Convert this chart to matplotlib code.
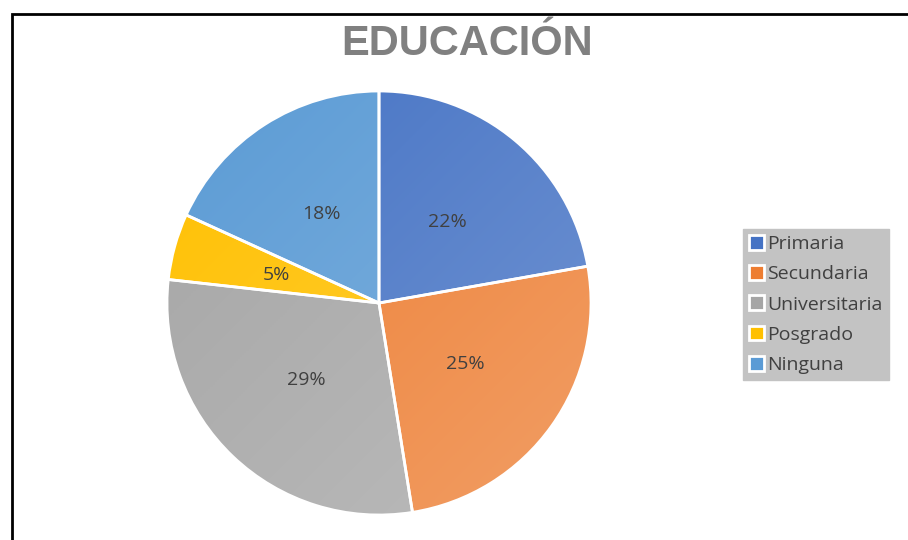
import numpy as np
import matplotlib.pyplot as plt
from matplotlib.colors import LinearSegmentedColormap, to_rgb
from matplotlib.patches import Rectangle, Wedge

categories = ['Primaria', 'Secundaria', 'Universitaria', 'Posgrado', 'Ninguna']
values = [22, 25, 29, 5, 18]
colors = ['#4472C4', '#ED7D31', '#A5A5A5', '#FFC000', '#5B9BD5']


def lighter(c, amt):
    r = np.array(to_rgb(c))
    return tuple(r + (1 - r) * amt)


def main():
    fig = plt.figure(figsize=(9.08, 5.40), dpi=100)

    # pie area
    ax = fig.add_axes([167 / 908, 25 / 540, 424 / 908, 424 / 540])
    wedges, texts, autotexts = ax.pie(
        values, colors=colors, startangle=90, counterclock=False,
        autopct='%1.0f%%', pctdistance=0.5,
        wedgeprops=dict(edgecolor='white', linewidth=2),
        textprops=dict(fontsize=14, color='#404040', family='Open Sans'))
    ax.set_aspect('equal')
    ax.set_xlim(-1, 1)
    ax.set_ylim(-1, 1)

    # soft diagonal shading inside each slice
    yy, xx = np.mgrid[1:-1:200j, -1:1:200j]
    grad = (xx - yy + 2) / 4
    for w, c in zip(wedges, colors):
        cmap = LinearSegmentedColormap.from_list('g', [c, lighter(c, 0.25)])
        im = ax.imshow(grad, extent=[-1, 1, -1, 1], cmap=cmap, vmin=0, vmax=1,
                       zorder=w.get_zorder() + 0.1, interpolation='bilinear')
        im.set_clip_path(w)
        edge = Wedge(w.center, w.r, w.theta1, w.theta2, facecolor='none',
                     edgecolor='white', linewidth=2, zorder=w.get_zorder() + 0.2)
        ax.add_patch(edge)
    for t in autotexts:
        t.set_zorder(5)

    # title
    fig.text(467 / 908, 1 - 44 / 540, 'EDUCACIÓN', ha='center', va='center',
             fontsize=30, fontweight='bold', color='#808080', family='Liberation Sans')

    # legend
    leg = fig.legend(wedges, categories, loc='upper left',
                     bbox_to_anchor=(743 / 908, 1 - 229 / 540),
                     frameon=True, facecolor='#C3C3C3', edgecolor='#C3C3C3',
                     fancybox=False, framealpha=1, borderpad=0.3,
                     handlelength=0.8, handleheight=0.8, handletextpad=0.15,
                     labelspacing=0.62, borderaxespad=0,
                     prop=dict(family='Open Sans', size=14))
    for t in leg.get_texts():
        t.set_color('#404040')

    # outer frame
    fig.patches.append(Rectangle((12 / 908, -0.1), 1.2, 1 - 14 / 540 + 0.1,
                                 transform=fig.transFigure, fill=False,
                                 edgecolor='black', linewidth=2))

    fig.savefig('out.png', dpi=100)


if __name__ == "__main__":
    main()
